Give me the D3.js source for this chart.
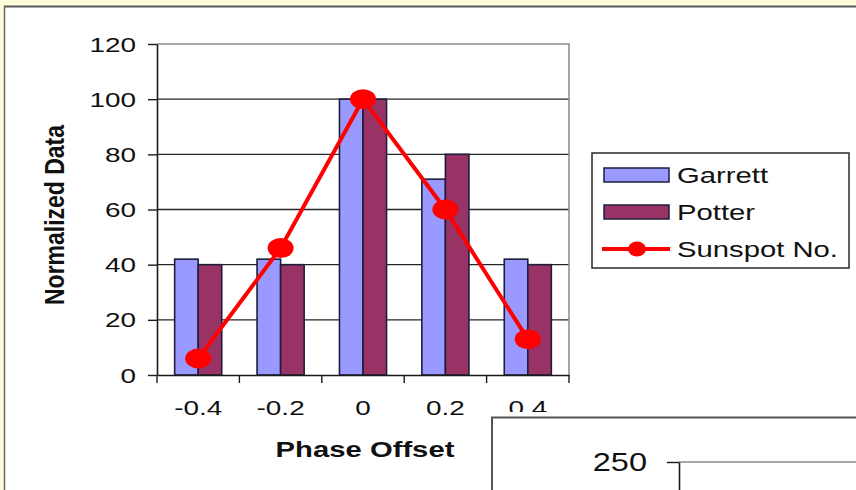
<!DOCTYPE html>
<html><head><meta charset="utf-8">
<script src="https://cdn.jsdelivr.net/npm/d3@7"></script>
<style>
html,body{margin:0;padding:0;background:#fffcdc;}
svg{display:block;font-family:"Liberation Sans",Arial,sans-serif;}
</style></head>
<body>
<svg id="c" width="856" height="490"></svg>
<script>
// ---- data ----
const categories = ["-0.4", "-0.2", "0", "0.2", "0.4"];
const seriesNames = ["Garrett", "Potter"];
const garrett = [42, 42, 100, 71, 42];
const potter = [40, 40, 100, 80, 40];
const sunspot = [6, 46, 100, 60, 13];
const yTicks = [0, 20, 40, 60, 80, 100, 120];
const legendLabels = ["Garrett", "Potter", "Sunspot No."];
const inset2Ticks = [250];

// ---- layout ----
const W = 856, H = 490, SX = 1.33;
const plot = {left: 157, right: 569, top: 44, bottom: 375};
const colors = {Garrett: "#9999ff", Potter: "#993366", Sunspot: "#ff0000"};
const barStroke = "#1e1e3c";

const svg = d3.select("#c");

// background frame
svg.append("rect").attr("x", 0).attr("y", 0).attr("width", W).attr("height", H).attr("fill", "#fffcdc");
svg.append("rect").attr("x", 5).attr("y", 7).attr("width", W - 5).attr("height", H - 7).attr("fill", "#ffffff");
svg.append("line").attr("x1", 4).attr("x2", W).attr("y1", 6.5).attr("y2", 6.5).attr("stroke", "#5a5a5a").attr("stroke-width", 2);
svg.append("line").attr("x1", 4.5).attr("x2", 4.5).attr("y1", 6).attr("y2", H).attr("stroke", "#6a6a6a").attr("stroke-width", 1.5);

// scales
const x = d3.scaleBand().domain(categories).range([plot.left, plot.right]).padding(0);
const x1 = d3.scaleBand().domain(seriesNames).range([0, x.bandwidth()]).paddingInner(0).paddingOuter(0.75);
const y = d3.scaleLinear().domain([0, 120]).range([plot.bottom, plot.top]);

// gridlines
const gridG = svg.append("g");
gridG.selectAll("line").data(yTicks.filter(t => t > 0 && t < 120)).join("line")
  .attr("x1", plot.left).attr("x2", plot.right)
  .attr("y1", d => y(d)).attr("y2", d => y(d))
  .attr("stroke", "#262626").attr("stroke-width", 1.3);
// plot border (top + right) gray
svg.append("path")
  .attr("d", `M${plot.left},${y(120)}H${plot.right}V${plot.bottom}`)
  .attr("fill", "none").attr("stroke", "#8a8a8a").attr("stroke-width", 1.5);

// bars
const rows = categories.map((c, i) => ({cat: c, Garrett: garrett[i], Potter: potter[i]}));
const groups = svg.append("g").selectAll("g").data(rows).join("g")
  .attr("transform", d => `translate(${x(d.cat)},0)`);
groups.selectAll("rect").data(d => seriesNames.map(s => ({s, v: d[s]}))).join("rect")
  .attr("x", d => x1(d.s)).attr("width", x1.bandwidth())
  .attr("y", d => y(d.v)).attr("height", d => y(0) - y(d.v))
  .attr("fill", d => colors[d.s]).attr("stroke", barStroke).attr("stroke-width", 1.6);

// y axis
const yAxis = svg.append("g").attr("transform", `translate(${plot.left},0)`)
  .call(d3.axisLeft(y).tickValues(yTicks).tickSize(9).tickSizeOuter(0));
yAxis.select(".domain").attr("stroke", "#1a1a1a").attr("stroke-width", 1.6);
yAxis.selectAll(".tick line").attr("stroke", "#1a1a1a").attr("stroke-width", 1.4);
yAxis.selectAll(".tick text")
  .attr("x", 0).attr("dy", "0.34em")
  .attr("transform", `translate(-21,0) scale(${SX},1)`)
  .attr("font-size", 21).attr("fill", "#111").attr("text-anchor", "end");

// x axis
const xAxis = svg.append("g").attr("transform", `translate(0,${plot.bottom})`)
  .call(d3.axisBottom(x).tickSize(0).tickSizeOuter(0));
xAxis.select(".domain").attr("stroke", "#1a1a1a").attr("stroke-width", 1.6);
xAxis.selectAll(".tick text")
  .attr("y", 0).attr("dy", 0)
  .attr("transform", `translate(0,40) scale(${SX},1)`)
  .attr("font-size", 21).attr("fill", "#111");
// boundary tick marks
const bounds = categories.map(c => x(c)).concat([x.range()[1]]);
svg.append("g").selectAll("line").data(bounds).join("line")
  .attr("x1", d => d).attr("x2", d => d)
  .attr("y1", plot.bottom).attr("y2", plot.bottom + 8)
  .attr("stroke", "#1a1a1a").attr("stroke-width", 1.4);

// sunspot line
const line = d3.line().x((d, i) => x(categories[i]) + x.bandwidth() / 2).y(d => y(d));
svg.append("path").datum(sunspot).attr("d", line)
  .attr("fill", "none").attr("stroke", colors.Sunspot).attr("stroke-width", 4);
svg.append("g").selectAll("ellipse").data(sunspot).join("ellipse")
  .attr("cx", (d, i) => x(categories[i]) + x.bandwidth() / 2).attr("cy", d => y(d))
  .attr("rx", 13).attr("ry", 10).attr("fill", colors.Sunspot);

// axis titles
svg.append("text").text("Phase Offset")
  .attr("transform", `translate(${(plot.left + plot.right) / 2 + 2},457) scale(${SX},1)`)
  .attr("text-anchor", "middle").attr("font-size", 22).attr("font-weight", "bold").attr("fill", "#111");
svg.append("text").text("Normalized Data")
  .attr("transform", `translate(64,215) scale(${SX},1) rotate(-90)`)
  .attr("text-anchor", "middle").attr("font-size", 21).attr("font-weight", "bold").attr("fill", "#111")
  .attr("textLength", 180).attr("lengthAdjust", "spacingAndGlyphs");

// legend
const lg = svg.append("g");
lg.append("rect").attr("x", 592).attr("y", 153).attr("width", 257).attr("height", 115)
  .attr("fill", "#fff").attr("stroke", "#2a2a2a").attr("stroke-width", 1.5);
const itemY = [175, 212, 249];
legendLabels.forEach((lab, i) => {
  if (i < 2) {
    lg.append("rect").attr("x", 604).attr("y", itemY[i] - 7).attr("width", 65).attr("height", 14)
      .attr("fill", colors[seriesNames[i]]).attr("stroke", barStroke).attr("stroke-width", 1.5);
  } else {
    lg.append("line").attr("x1", 602).attr("x2", 670).attr("y1", itemY[i]).attr("y2", itemY[i])
      .attr("stroke", colors.Sunspot).attr("stroke-width", 4);
    lg.append("ellipse").attr("cx", 637).attr("cy", itemY[i]).attr("rx", 9).attr("ry", 7.5).attr("fill", colors.Sunspot);
  }
  lg.append("text").text(lab)
    .attr("transform", `translate(677,${itemY[i]}) scale(${SX},1)`)
    .attr("dy", "0.36em").attr("font-size", 22).attr("fill", "#111");
});

// overlapping second chart (partially visible)
const g2 = svg.append("g");
g2.append("rect").attr("x", 487).attr("y", 412).attr("width", W - 487).attr("height", H - 412).attr("fill", "#fff");
g2.append("line").attr("x1", 491).attr("x2", W).attr("y1", 417.5).attr("y2", 417.5).attr("stroke", "#555").attr("stroke-width", 2);
g2.append("line").attr("x1", 492).attr("x2", 492).attr("y1", 417).attr("y2", H).attr("stroke", "#555").attr("stroke-width", 2);
const y2 = d3.scaleLinear().domain([0, 250]).range([760, 462]);
g2.selectAll("line.grid2").data(inset2Ticks).join("line").attr("class", "grid2")
  .attr("x1", 679).attr("x2", W).attr("y1", d => y2(d)).attr("y2", d => y2(d))
  .attr("stroke", "#8a8a8a").attr("stroke-width", 1.5);
const ax2 = g2.append("g").attr("transform", "translate(679,0)")
  .call(d3.axisLeft(y2).tickValues(inset2Ticks).tickSize(12).tickSizeOuter(0));
ax2.select(".domain").attr("stroke", "#1a1a1a").attr("stroke-width", 1.6);
ax2.selectAll(".tick line").attr("stroke", "#1a1a1a").attr("stroke-width", 1.4);
ax2.selectAll(".tick text")
  .attr("x", 0).attr("dy", "0.35em")
  .attr("transform", `translate(-32,0) scale(1.3,1)`)
  .attr("font-size", 25).attr("fill", "#111").attr("text-anchor", "end");
</script>
</body></html>
